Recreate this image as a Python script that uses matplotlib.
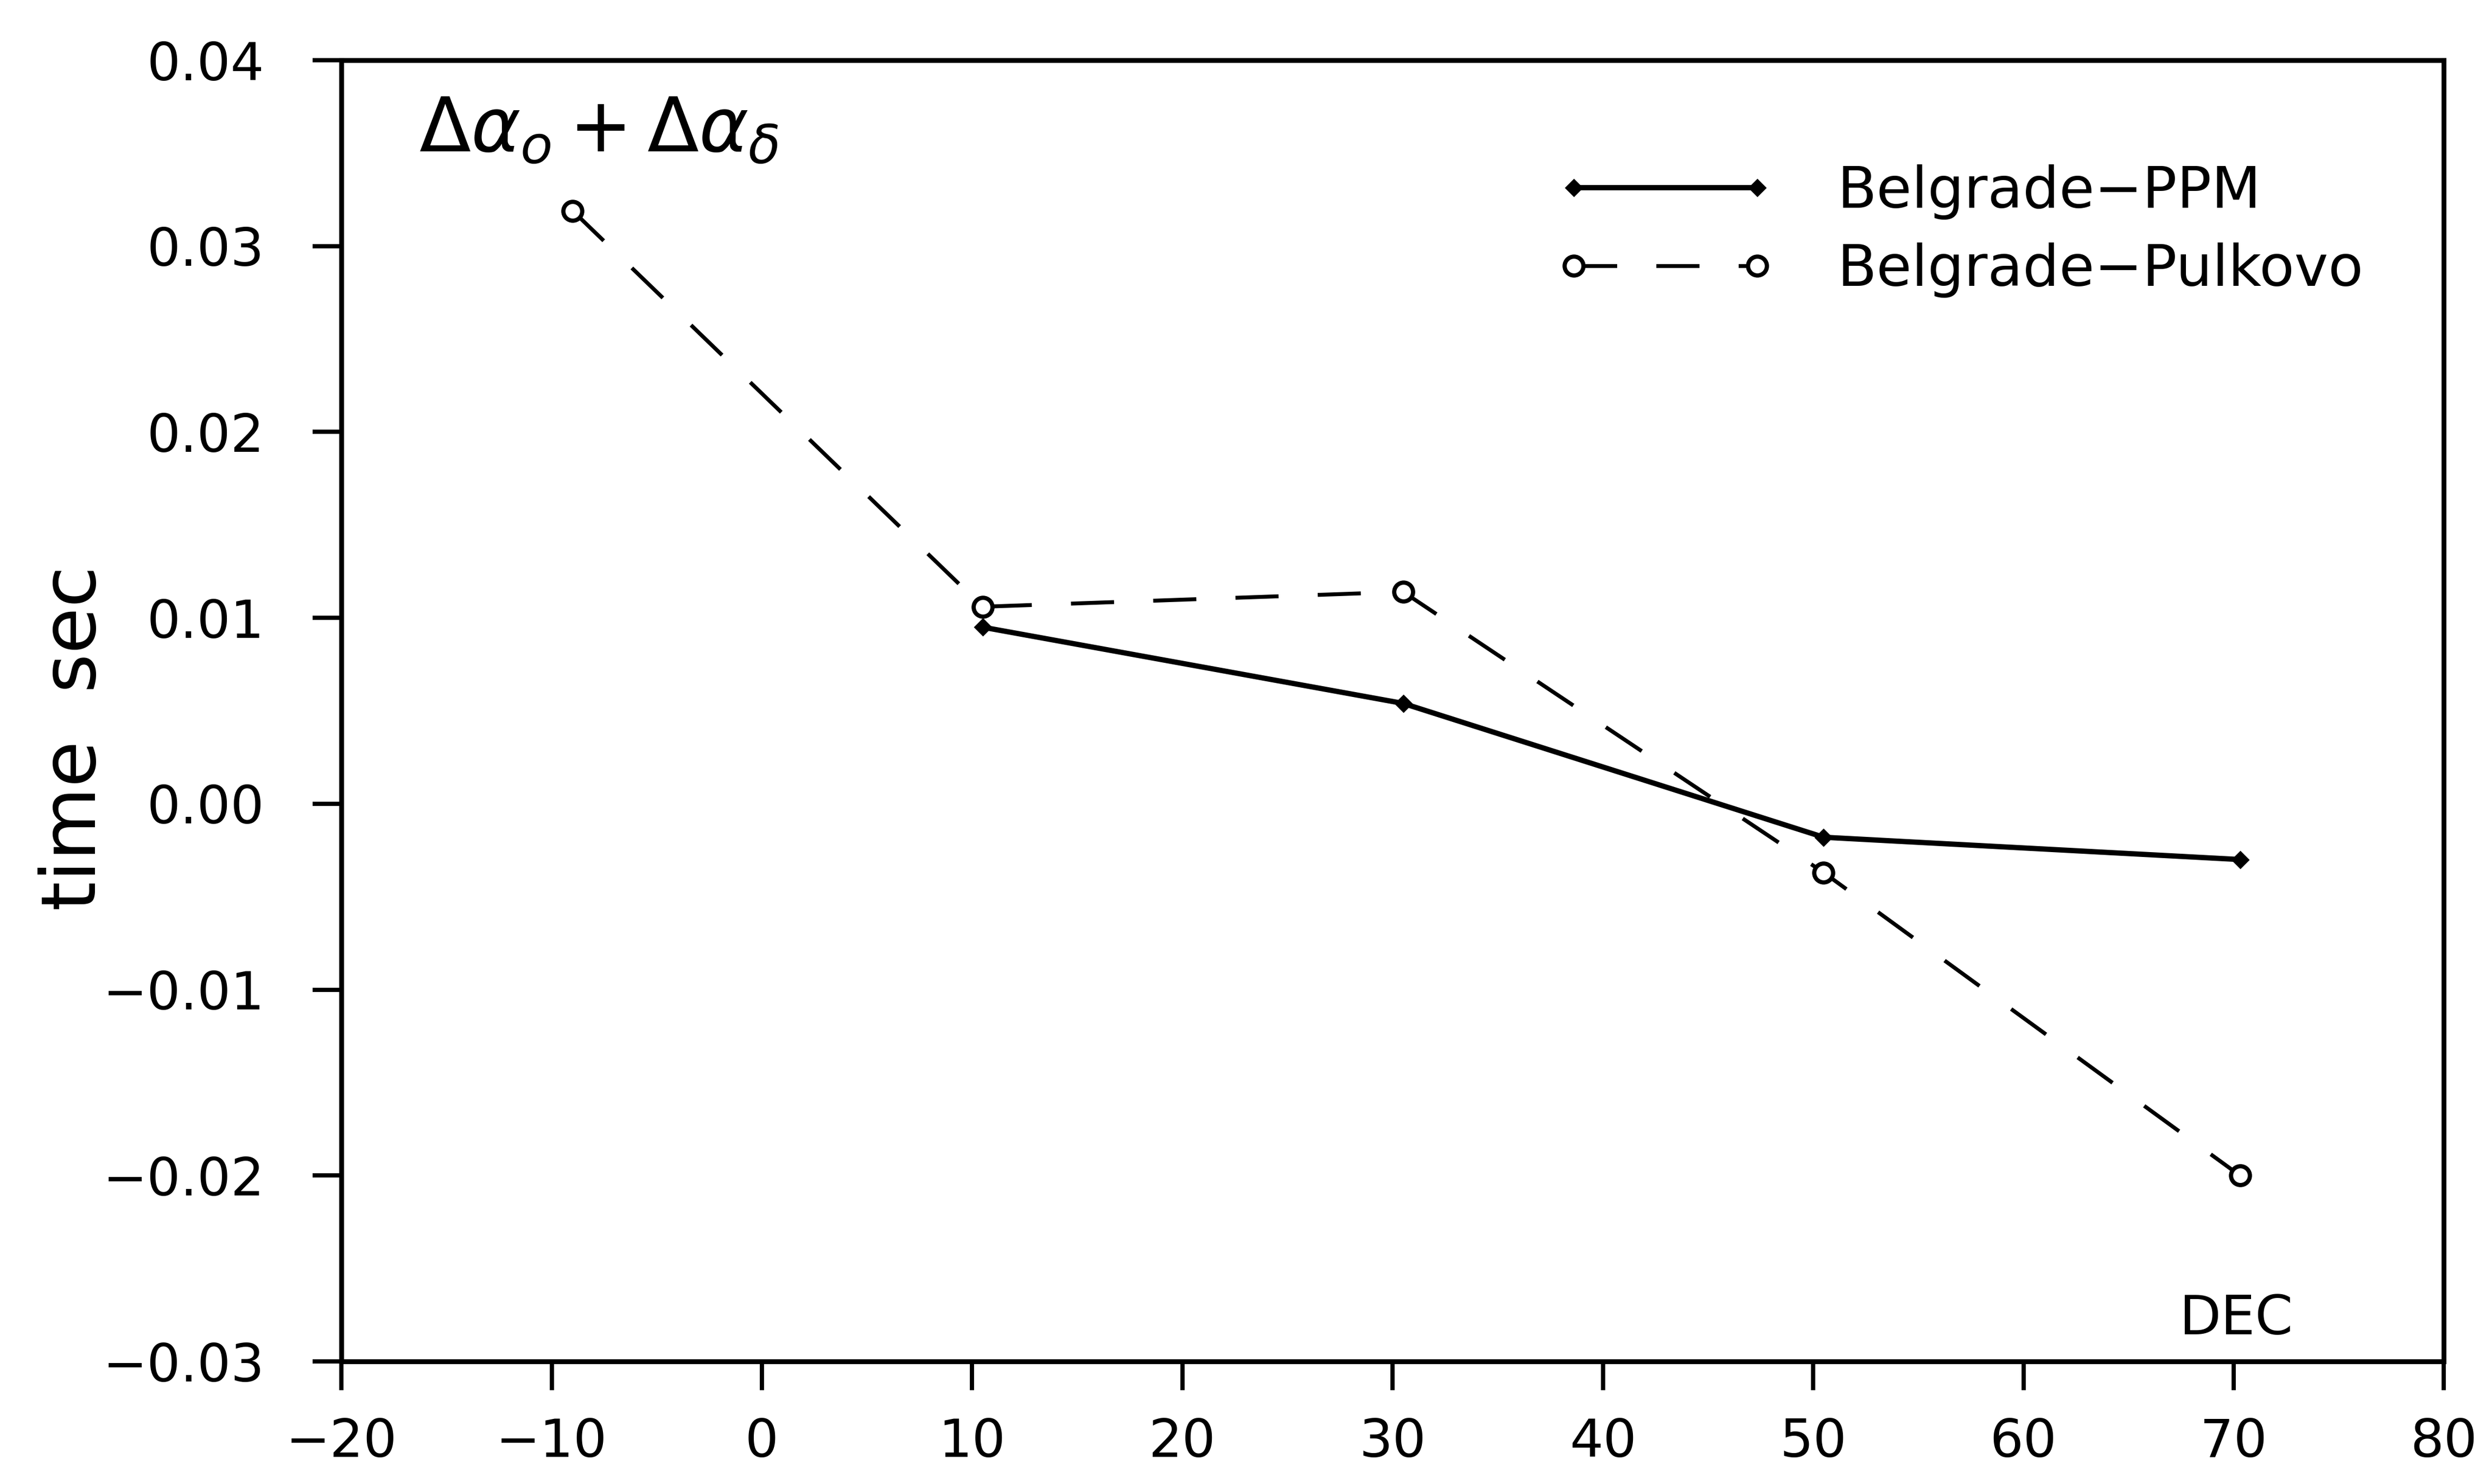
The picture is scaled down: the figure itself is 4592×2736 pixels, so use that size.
import matplotlib
matplotlib.use("Agg")
import matplotlib.pyplot as plt

# ---- data ----
x_ppm = [10.5, 30.5, 50.5, 70.3]
y_ppm = [0.0095, 0.0054, -0.0018, -0.0030]
x_pul = [-9.0, 10.5, 30.5, 50.5, 70.3]
y_pul = [0.0319, 0.0106, 0.0114, -0.0037, -0.0200]

labels = ["Belgrade\u2212PPM", "Belgrade\u2212Pulkovo"]
xticks = [-20, -10, 0, 10, 20, 30, 40, 50, 60, 70, 80]
xticklabels = ["\u221220", "\u221210", "0", "10", "20", "30", "40", "50", "60", "70", "80"]
yticks = [0.04, 0.03, 0.02, 0.01, 0.00, -0.01, -0.02, -0.03]
yticklabels = ["0.04", "0.03", "0.02", "0.01", "0.00", "\u22120.01", "\u22120.02", "\u22120.03"]
ylabel = "time  sec"
xnote = "DEC"
title = r"$\Delta\alpha_{o}+\Delta\alpha_{\delta}$"

plt.rcParams['font.family'] = ['DejaVu Sans']
plt.rcParams['mathtext.fontset'] = 'dejavusans'

fig = plt.figure(figsize=(22.96, 13.68), dpi=200)
ax = fig.add_axes([0.137, 0.0826, 0.8437, 0.8768])

ax.plot(x_ppm, y_ppm, color='black', lw=3.5, marker='D', markersize=7.5,
        markerfacecolor='black', markeredgecolor='black', label=labels[0])
ax.plot(x_pul, y_pul, color='black', lw=2.6, dashes=(11, 10), marker='o',
        markersize=12.5, markerfacecolor='white', markeredgecolor='black',
        markeredgewidth=2.8, label=labels[1])

ax.set_xlim(-20, 80)
ax.set_ylim(-0.03, 0.04)
ax.set_xticks(xticks)
ax.set_xticklabels(xticklabels)
ax.set_yticks(yticks)
ax.set_yticklabels(yticklabels)

for s in ax.spines.values():
    s.set_linewidth(3.2)
ax.tick_params(axis='both', direction='out', width=2.8, labelsize=35)
ax.tick_params(axis='y', length=19, pad=32)
ax.tick_params(axis='x', length=19, pad=18)

ax.set_ylabel(ylabel, fontsize=50, va='center')
ax.yaxis.set_label_coords(-0.127, 0.479)

ax.text(0.037, 0.930, title, transform=ax.transAxes, fontsize=50,
        ha='left', va='baseline')
ax.text(0.874, 0.021, xnote, transform=ax.transAxes, fontsize=36,
        ha='left', va='baseline')

leg = ax.legend(loc='upper left', bbox_to_anchor=(0.578, 0.920), frameon=False,
                fontsize=38, numpoints=2, handlelength=3.8, handletextpad=1.1,
                labelspacing=0.4, borderpad=0, borderaxespad=0)

fig.savefig("out.png", dpi=200, facecolor='white')
